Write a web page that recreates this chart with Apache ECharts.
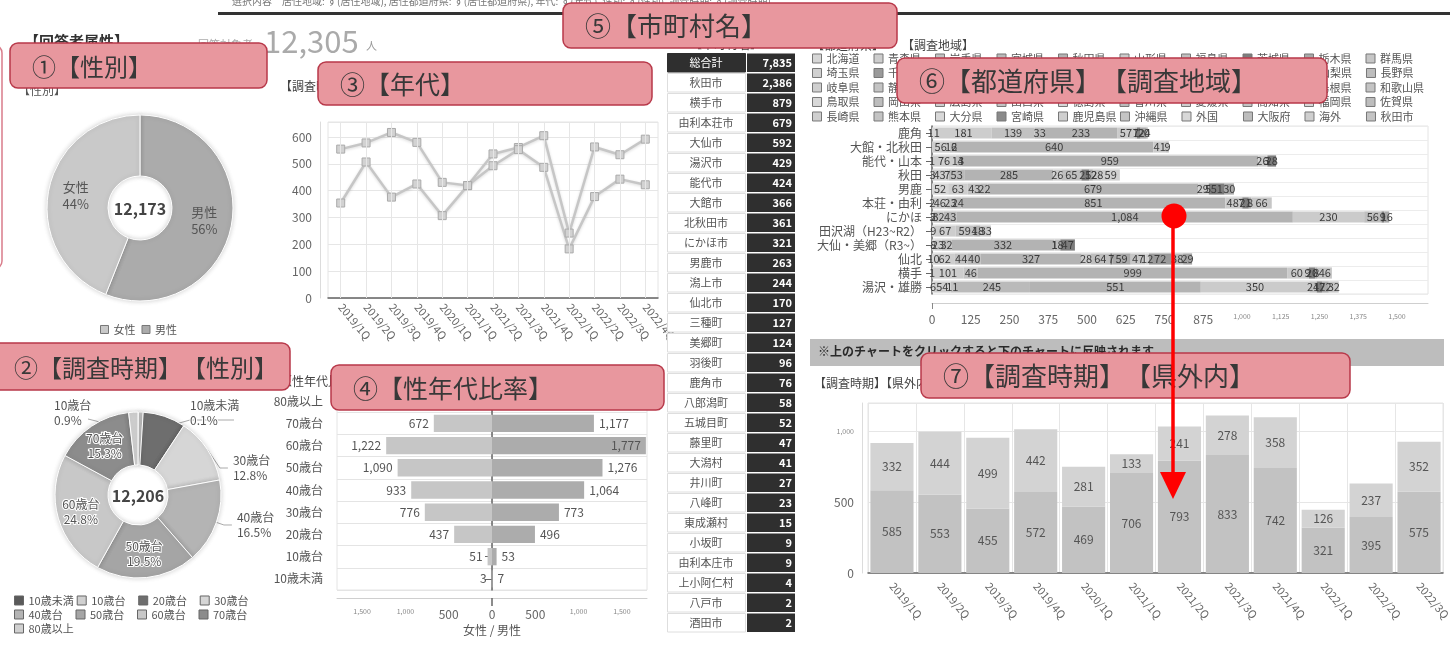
<!DOCTYPE html>
<html><head><meta charset="utf-8">
<script src="https://cdn.jsdelivr.net/npm/echarts@6/dist/echarts.min.js"></script>
<style>html,body{margin:0;padding:0;background:#fff;overflow:hidden}#c{width:1450px;height:648px}</style>
</head><body><div id="c"></div>
<script>
// ---------------- data ----------------
const genderNames = ['女性', '男性'];
const genderValues = [5356, 6817];

const ageNames = ['10歳未満', '10歳台', '20歳台', '30歳台', '40歳台', '50歳台', '60歳台', '70歳台', '80歳以上'];
const ageValues = [12, 110, 1013, 1562, 2014, 2380, 3027, 1868, 220];

const quarters = ['2019/1Q', '2019/2Q', '2019/3Q', '2019/4Q', '2020/1Q', '2021/1Q', '2021/2Q', '2021/3Q', '2021/4Q', '2022/1Q', '2022/2Q', '2022/3Q', '2022/4Q'];
const lineSeriesA = [555, 578, 617, 580, 431, 419, 537, 561, 605, 242, 563, 534, 592];
const lineSeriesB = [354, 507, 376, 425, 307, 419, 493, 553, 487, 183, 378, 443, 422];

const pyramidAges = ['10歳未満', '10歳台', '20歳台', '30歳台', '40歳台', '50歳台', '60歳台', '70歳台', '80歳以上'];
const pyramidFemale = [3, 51, 437, 776, 933, 1090, 1222, 672, 95];
const pyramidMale = [7, 53, 496, 773, 1064, 1276, 1777, 1177, 125];

const cityNames = ['総合計', '秋田市', '横手市', '由利本荘市', '大仙市', '湯沢市', '能代市', '大館市', '北秋田市', 'にかほ市', '男鹿市', '潟上市', '仙北市', '三種町', '美郷町', '羽後町', '鹿角市', '八郎潟町', '五城目町', '藤里町', '大潟村', '井川町', '八峰町', '東成瀬村', '小坂町', '由利本庄市', '上小阿仁村', '八戸市', '酒田市'];
const cityValues = [7835, 2386, 879, 679, 592, 429, 424, 366, 361, 321, 263, 244, 170, 127, 124, 96, 76, 58, 52, 47, 41, 27, 23, 15, 9, 9, 4, 2, 2];

const regions = ['鹿角', '大館・北秋田', '能代・山本', '秋田', '男鹿', '本荘・由利', 'にかほ', '田沢湖（H23~R2）', '大仙・美郷（R3~）', '仙北', '横手', '湯沢・雄勝'];
const prefNames = ['北海道', '青森県', '岩手県', '宮城県', '秋田県', '山形県', '福島県', '茨城県', '栃木県', '群馬県',
  '埼玉県', '千葉県', '東京都', '神奈川県', '新潟県', '富山県', '石川県', '福井県', '山梨県', '長野県',
  '岐阜県', '静岡県', '愛知県', '三重県', '滋賀県', '京都府', '兵庫県', '奈良県', '島根県', '和歌山県',
  '鳥取県', '岡山県', '広島県', '山口県', '徳島県', '香川県', '愛媛県', '高知県', '福岡県', '佐賀県',
  '長崎県', '熊本県', '大分県', '宮崎県', '鹿児島県', '沖縄県', '外国', '大阪府', '海外', '秋田市'];
const prefHokkaido = [11, 0, 1, 3, 52, 2, 3, 9, 8, 10, 1, 6];
const prefAomori = [181, 56, 76, 43, 63, 46, 2, 67, 23, 62, 101, 54];
const prefIwate = [139, 12, 13, 7, 43, 23, 32, 59, 32, 44, 46, 11];
const prefMiyagi = [33, 6, 4, 53, 22, 24, 43, 4, 0, 40, 0, 245];
const prefAkita = [233, 640, 959, 285, 679, 851, 1084, 18, 332, 327, 999, 551];
const prefYamagata = [57, 41, 26, 26, 29, 48, 230, 33, 1, 28, 60, 350];
const prefFukushima = [7, 9, 3, 65, 5, 7, 56, 0, 18, 64, 9, 24];
const prefIbaraki = [12, 0, 28, 25, 51, 21, 9, 0, 47, 7, 20, 17];
const prefTochigi = [20, 0, 0, 12, 30, 8, 16, 0, 0, 59, 8, 22];
const prefGunma = [4, 0, 0, 28, 0, 66, 0, 0, 0, 47, 46, 32];
const prefSaitama = [0, 0, 0, 59, 0, 0, 0, 0, 0, 12, 0, 0];
const prefChiba = [0, 0, 0, 0, 0, 0, 0, 0, 0, 72, 0, 0];
const prefTokyo = [0, 0, 0, 0, 0, 0, 0, 0, 0, 38, 0, 0];
const prefKanagawa = [0, 0, 0, 0, 0, 0, 0, 0, 0, 29, 0, 0];

const barQuarters = ['2019/1Q', '2019/2Q', '2019/3Q', '2019/4Q', '2020/1Q', '2021/1Q', '2021/2Q', '2021/3Q', '2021/4Q', '2022/1Q', '2022/2Q', '2022/3Q'];
const barInPref = [585, 553, 455, 572, 469, 706, 793, 833, 742, 321, 395, 575];
const barOutPref = [332, 444, 499, 442, 281, 133, 241, 278, 358, 126, 237, 352];

// ---------------- helpers ----------------
const FONT = '"Noto Sans CJK JP", "Noto Sans", sans-serif';
const fmt = v => Number(v).toLocaleString('en-US');
const sum = a => a.reduce((s, v) => s + v, 0);
const prefData = {
  '北海道': prefHokkaido, '青森県': prefAomori, '岩手県': prefIwate, '宮城県': prefMiyagi, '秋田県': prefAkita,
  '山形県': prefYamagata, '福島県': prefFukushima, '茨城県': prefIbaraki, '栃木県': prefTochigi, '群馬県': prefGunma,
  '埼玉県': prefSaitama, '千葉県': prefChiba, '東京都': prefTokyo, '神奈川県': prefKanagawa
};
const prefColorMap = {
  '北海道': '#d6d6d6', '青森県': '#cdcdcd', '岩手県': '#c2c2c2', '宮城県': '#bababa', '秋田県': '#b3b3b3',
  '山形県': '#cbcbcb', '福島県': '#bfbfbf', '茨城県': '#7d7d7d', '栃木県': '#a9a9a9', '群馬県': '#c6c6c6',
  '埼玉県': '#d0d0d0', '千葉県': '#9a9a9a', '東京都': '#bcbcbc', '神奈川県': '#a3a3a3', '宮崎県': '#8a8a8a'
};
const prefCycle = ['#cfcfcf', '#c4c4c4', '#d8d8d8', '#bdbdbd'];
const ageColors = ['#5a5a5a', '#d0d0d0', '#6e6e6e', '#d6d6d6', '#b4b4b4', '#a5a5a5', '#c8c8c8', '#8c8c8c', '#d0d0d0'];
const ageTotal = sum(ageValues);
const genderTotal = sum(genderValues);
const ageOutside = [0, 1, 3, 4];
const ageHidden = [2, 8];

const richSmall = { t: { fontSize: 7, color: '#888', fontFamily: FONT }, n: { fontSize: 12, color: '#666', fontFamily: FONT } };
const pinkBox = (x, y, w, h, label, size) => ([
  { type: 'rect', z: 100, shape: { x, y, width: w, height: h, r: 8 }, style: { fill: '#e8979e', stroke: '#b8394a', lineWidth: 1.5 } },
  { type: 'text', z: 101, style: { text: label, x: x + 22, y: y + h / 2 + 1, fill: '#383838', font: (size || 24) + 'px ' + FONT, verticalAlign: 'middle' } }
]);
const plainText = (text, x, y, size, color, weight) => ({
  type: 'text', z: 50, style: { text, x, y, fill: color, font: (weight || 'normal') + ' ' + size + 'px ' + FONT, verticalAlign: 'middle' }
});

// ---------------- chart ----------------
const chart = echarts.init(document.getElementById('c'), null, { width: 1450, height: 648 });

const series = [];
// pie 1 (gender)
series.push({
  type: 'pie', center: [140, 208], radius: [32, 93], startAngle: 90, clockwise: true,
  data: [{ name: genderNames[1], value: genderValues[1] }, { name: genderNames[0], value: genderValues[0] }],
  color: ['#ababab', '#c9c9c9'],
  itemStyle: { borderColor: '#fff', borderWidth: 1, shadowBlur: 5, shadowColor: 'rgba(0,0,0,0.18)' },
  label: { position: 'inside', color: '#555', fontSize: 13, lineHeight: 17, fontFamily: FONT,
    formatter: p => p.name + '\n' + Math.round(p.value / genderTotal * 100) + '%' },
  emphasis: { disabled: true }
});
// pie 2 (age)
series.push({
  type: 'pie', center: [138, 495], radius: [30, 83], startAngle: 90,
  data: ageNames.map((n, i) => ({ name: n, value: ageValues[i], itemStyle: { color: ageColors[i] },
    label: { show: !ageHidden.includes(i), position: ageOutside.includes(i) ? 'outside' : 'inside' },
    labelLine: { show: ageOutside.includes(i) } })),
  itemStyle: { borderColor: '#fff', borderWidth: 1, shadowBlur: 5, shadowColor: 'rgba(0,0,0,0.18)' },
  label: { color: '#555', fontSize: 12, lineHeight: 15, fontFamily: FONT, textBorderColor: '#fff', textBorderWidth: 2,
    formatter: p => p.name + '\n' + (p.value / ageTotal * 100).toFixed(1) + '%' },
  labelLine: { length: 8, length2: 8, lineStyle: { color: '#aaa', width: 1 } },
  labelLayout: p => {
    if (p.seriesIndex !== 1) return {};
    if (p.dataIndex === 1) return { x: 54, y: 398, align: 'left', verticalAlign: 'top', labelLinePoints: [[140, 436], [96, 421], [88, 419]] };
    if (p.dataIndex === 0) return { x: 190, y: 398, align: 'left', verticalAlign: 'top', labelLinePoints: [[140, 434], [190, 420], [234, 420]] };
    return {};
  },
  emphasis: { disabled: true }
});
// line chart
[lineSeriesA, lineSeriesB].forEach((d, k) => series.push({
  type: 'line', name: 'line' + k, xAxisIndex: 0, yAxisIndex: 0, data: d, symbol: 'rect', symbolSize: 8,
  lineStyle: { color: '#c6c6c6', width: 2.5, shadowBlur: 3, shadowColor: 'rgba(0,0,0,0.15)', shadowOffsetY: 1 },
  itemStyle: { color: '#d2d2d2', borderColor: '#aaaaaa', borderWidth: 1 }, z: 3
}));
series.push({
  type: 'line', name: 'vgrid', xAxisIndex: 0, yAxisIndex: 0, data: [], z: 0, silent: true,
  markLine: { silent: true, symbol: 'none', label: { show: false }, lineStyle: { color: '#e6e6e6', type: 'solid', width: 1 },
    data: quarters.map(q => ({ xAxis: q })) }
});
// pyramid
series.push({
  type: 'bar', name: 'female', xAxisIndex: 1, yAxisIndex: 1, stack: 'p', barWidth: '78%',
  data: pyramidFemale.map(v => -v), itemStyle: { color: '#c6c6c6' },
  label: { show: true, position: 'left', color: '#555', fontSize: 12, fontFamily: FONT, formatter: p => fmt(Math.abs(p.value)) }
});
series.push({
  type: 'bar', name: 'male', xAxisIndex: 1, yAxisIndex: 1, stack: 'p', barWidth: '78%',
  data: pyramidMale.map(v => ({ value: v, label: { position: v > 1650 ? 'insideRight' : 'right' } })), itemStyle: { color: '#acacac' },
  label: { show: true, color: '#555', fontSize: 12, fontFamily: FONT, formatter: p => fmt(p.value) }
});
// table
series.push({
  type: 'custom', xAxisIndex: 2, yAxisIndex: 2,
  data: cityValues.map((v, i) => [0, i, v]),
  renderItem: function (params, api) {
    const idx = api.value(1), val = api.value(2);
    const c = api.coord([0, idx]);
    const h = api.size([0, 1])[1];
    const cs = params.coordSys;
    const nameW = 78, gap = 2;
    const y0 = c[1] - h / 2 + 0.5, hh = h - 1.5;
    const dark = '#2f2f2f';
    const isTotal = idx === 0;
    return { type: 'group', children: [
      { type: 'rect', shape: { x: cs.x + 0.5, y: y0, width: nameW, height: hh }, style: { fill: isTotal ? dark : '#fff', stroke: isTotal ? dark : '#dedede', lineWidth: 1 } },
      { type: 'text', style: { text: cityNames[idx], x: cs.x + nameW / 2, y: c[1], align: 'center', verticalAlign: 'middle', fill: isTotal ? '#fff' : '#555', font: '11px ' + FONT } },
      { type: 'rect', shape: { x: cs.x + nameW + gap, y: y0, width: cs.width - nameW - gap, height: hh }, style: { fill: dark } },
      { type: 'text', style: { text: fmt(val), x: cs.x + cs.width - 3, y: c[1], align: 'right', verticalAlign: 'middle', fill: '#fff', font: 'bold 11px ' + FONT } }
    ] };
  }
});
// regional stacked bars
prefNames.forEach((name, i) => series.push({
  type: 'bar', name, xAxisIndex: 3, yAxisIndex: 3, stack: 'region', barWidth: '80%',
  data: prefData[name] || [],
  itemStyle: { color: prefColorMap[name] || prefCycle[i % prefCycle.length] },
  label: { show: true, position: 'inside', color: '#3a3a3a', fontSize: 11, fontFamily: FONT,
    formatter: p => (p.value ? fmt(p.value) : '') }
}));
// quarter stacked bars
[[barInPref, '県内', '#c2c2c2'], [barOutPref, '県外', '#d3d3d3']].forEach(([d, n, col]) => series.push({
  type: 'bar', name: n, xAxisIndex: 4, yAxisIndex: 4, stack: 'q', barCategoryGap: '10%', data: d,
  itemStyle: { color: col },
  label: { show: true, position: 'inside', color: '#555', fontSize: 12, fontFamily: FONT }
}));

const gridBase = { show: true, borderColor: '#e4e4e4', borderWidth: 1, containLabel: false, outerBoundsMode: 'none' };
const option = {
  animation: false,
  backgroundColor: '#fff',
  textStyle: { fontFamily: FONT },
  grid: [
    Object.assign({ left: 328, top: 122, width: 330, height: 176 }, gridBase),
    Object.assign({ left: 337, top: 390, width: 310, height: 200 }, gridBase),
    { left: 667, top: 53, width: 128, height: 580, show: false, containLabel: false, outerBoundsMode: 'none' },
    Object.assign({ left: 932, top: 126, width: 496, height: 168 }, gridBase),
    Object.assign({ left: 868, top: 403, width: 575, height: 170 }, gridBase)
  ],
  xAxis: [
    { gridIndex: 0, type: 'category', data: quarters, boundaryGap: true, offset: 1,
      axisLine: { lineStyle: { color: '#666', width: 1.5 } }, axisTick: { alignWithLabel: true, length: 6, lineStyle: { color: '#666' } },
      axisLabel: { rotate: -50, color: '#666', fontSize: 11, margin: 6, interval: 0 }, splitLine: { show: false } },
    { gridIndex: 1, type: 'value', min: -1790, max: 1790, splitNumber: 7, offset: 8,
      axisLine: { show: true, lineStyle: { color: '#cfcfcf' } }, axisTick: { show: true, customValues: [0], length: 8, lineStyle: { color: '#666', width: 1.5 } },
      axisLabel: { margin: 10, formatter: v => { const a = Math.abs(v); if (a % 500) return ''; return a >= 1000 ? '{t|' + fmt(a) + '}' : '{n|' + fmt(a) + '}'; }, rich: richSmall },
      splitLine: { show: true, lineStyle: { color: '#e4e4e4' } },
      name: '女性 / 男性', nameLocation: 'middle', nameGap: 26, nameTextStyle: { color: '#555', fontSize: 12 } },
    { gridIndex: 2, type: 'value', min: 0, max: 1, show: false },
    { gridIndex: 3, type: 'value', min: 0, max: 1600, interval: 125, offset: 9,
      axisLine: { show: true, lineStyle: { color: '#cfcfcf' } }, axisTick: { show: true, customValues: [0], length: 6, lineStyle: { color: '#888' } },
      axisLabel: { margin: 10, formatter: v => (v % 125 || v > 1500) ? '' : (v >= 1000 ? '{t|' + fmt(v) + '}' : '{n|' + fmt(v) + '}'), rich: richSmall },
      splitLine: { show: true, lineStyle: { color: '#e6e6e6' } } },
    { gridIndex: 4, type: 'category', data: barQuarters, offset: 3,
      axisLine: { lineStyle: { color: '#666', width: 1.5 } }, axisTick: { alignWithLabel: true, length: 6, lineStyle: { color: '#666' } },
      axisLabel: { rotate: -50, color: '#666', fontSize: 11, margin: 8, interval: 0 },
      splitLine: { show: true, lineStyle: { color: '#e6e6e6' } } }
  ],
  yAxis: [
    { gridIndex: 0, type: 'value', min: 0, max: 656, interval: 100, offset: 8,
      axisLine: { show: true, lineStyle: { color: '#dcdcdc' } }, axisTick: { show: false },
      axisLabel: { color: '#666', fontSize: 12, margin: 8, formatter: v => (v % 100 ? '' : v) },
      splitLine: { lineStyle: { color: '#e6e6e6' } } },
    { gridIndex: 1, type: 'category', data: pyramidAges, offset: 4,
      axisLine: { show: true, lineStyle: { color: '#666', width: 1.5 } }, axisTick: { show: true, alignWithLabel: true, length: 7, lineStyle: { color: '#666' } },
      axisLabel: { color: '#555', fontSize: 12, margin: 10, interval: 0 }, splitLine: { show: true, lineStyle: { color: '#e4e4e4' } } },
    { gridIndex: 2, type: 'category', data: cityNames, inverse: true, show: false },
    { gridIndex: 3, type: 'category', data: regions, inverse: true,
      axisLine: { show: true, lineStyle: { color: '#666', width: 1.5 } }, axisTick: { show: true, alignWithLabel: true, interval: 0, length: 6, lineStyle: { color: '#666' } },
      axisLabel: { color: '#555', fontSize: 12, margin: 10, interval: 0 }, splitLine: { show: true, interval: 0, lineStyle: { color: '#ececec' } } },
    { gridIndex: 4, type: 'value', min: 0, max: 1200, interval: 500, offset: 6,
      axisLine: { show: true, lineStyle: { color: '#dcdcdc' } }, axisTick: { show: false },
      axisLabel: { margin: 8, formatter: v => (v % 500 ? '' : (v >= 1000 ? '{t|' + fmt(v) + '}' : '{n|' + fmt(v) + '}')), rich: richSmall },
      splitLine: { lineStyle: { color: '#e6e6e6' } } }
  ],
  legend: [
    { data: genderNames, left: 100, top: 324, padding: 0, itemWidth: 8, itemHeight: 8, itemGap: 6, icon: 'rect',
      itemStyle: { borderColor: '#777', borderWidth: 1 }, textStyle: { color: '#555', fontSize: 11 }, selectedMode: false },
    { data: ageNames, left: 14, top: 595, width: 270, padding: 0, itemWidth: 9, itemHeight: 9, itemGap: 3, icon: 'rect',
      itemStyle: { borderColor: '#666', borderWidth: 1 }, selectedMode: false,
      formatter: n => '{a|' + n + '}', textStyle: { rich: { a: { width: 44, fontSize: 11, color: '#555', lineHeight: 11.5 } } } },
    { data: prefNames, left: 812, top: 53, width: 620, padding: 0, itemWidth: 9, itemHeight: 9, itemGap: 3.5, icon: 'rect',
      itemStyle: { borderColor: '#777', borderWidth: 1 }, selectedMode: false,
      formatter: n => '{a|' + n + '}', textStyle: { rich: { a: { width: 43.5, fontSize: 11, color: '#555', lineHeight: 12.5 } } } }
  ],
  series,
  graphic: [].concat(
    [
      plainText('選択内容　居住地域: す(居住地域), 居住都道府県: す(居住都道府県), 年代: す(年代), 性別: す(性別), 調査時期: す(調査時期)', 232, 1, 10, '#777'),
      { type: 'rect', z: 50, shape: { x: 218, y: 12, width: 1240, height: 3 }, style: { fill: '#333' } },
      plainText('【回答者属性】', 24, 41, 15, '#333', 'bold'),
      plainText('回答対象者', 198, 45, 11, '#aaa'),
      plainText(fmt(12305), 264, 41, 31, '#aaa'),
      plainText('人', 366, 46, 11, '#999'),
      plainText('【性別】', 18, 90, 12, '#555'),
      plainText('【調査時期】【年代】', 280, 86, 12, '#444'),
      plainText('【性年代比率】', 280, 381, 12, '#444'),
      plainText('【市町村名】', 690, 44, 12, '#444'),
      plainText('【都道府県】', 812, 45, 12, '#444'),
      plainText('【調査地域】', 902, 45, 12, '#444'),
      { type: 'rect', z: 50, shape: { x: 810, y: 339, width: 634, height: 27 }, style: { fill: '#bdbdbd' } },
      plainText('※上のチャートをクリックすると下のチャートに反映されます', 818, 351, 12, '#2a2a2a', 'bold'),
      plainText('【調査時期】【県外内】', 814, 383, 12, '#444'),
      { type: 'text', z: 60, style: { text: fmt(genderTotal), x: 140, y: 209, align: 'center', verticalAlign: 'middle', fill: '#444', font: 'bold 16px ' + FONT } },
      { type: 'text', z: 60, style: { text: fmt(ageTotal), x: 138, y: 496, align: 'center', verticalAlign: 'middle', fill: '#444', font: 'bold 16px ' + FONT } },
      { type: 'rect', z: 99, shape: { x: -20, y: 45, width: 22, height: 224, r: 8 }, style: { fill: 'none', stroke: '#d97c8a', lineWidth: 1.5 } }
    ],
    pinkBox(10, 43, 257, 45, '①【性別】', 24),
    pinkBox(-8, 343, 298, 47, '②【調査時期】　【性別】', 24),
    pinkBox(318, 62, 334, 43, '③【年代】', 25),
    pinkBox(331, 365, 333, 45, '④【性年代比率】', 25),
    pinkBox(563, 3, 334, 45, '⑤【市町村名】', 26),
    pinkBox(897, 58, 430, 45, '⑥【都道府県】　【調査地域】', 26),
    pinkBox(921, 353, 429, 45, '⑦【調査時期】　【県外内】', 26),
    [
      { type: 'line', z: 120, shape: { x1: 1173, y1: 216, x2: 1173, y2: 485 }, style: { stroke: '#ff0000', lineWidth: 3.5 } },
      { type: 'polygon', z: 121, shape: { points: [[1160, 472], [1186, 472], [1173, 499]] }, style: { fill: '#ff0000' } },
      { type: 'circle', z: 121, shape: { cx: 1174, cy: 216, r: 12.5 }, style: { fill: '#ff0000' } }
    ]
  )
};
chart.setOption(option);
</script>
</body></html>
